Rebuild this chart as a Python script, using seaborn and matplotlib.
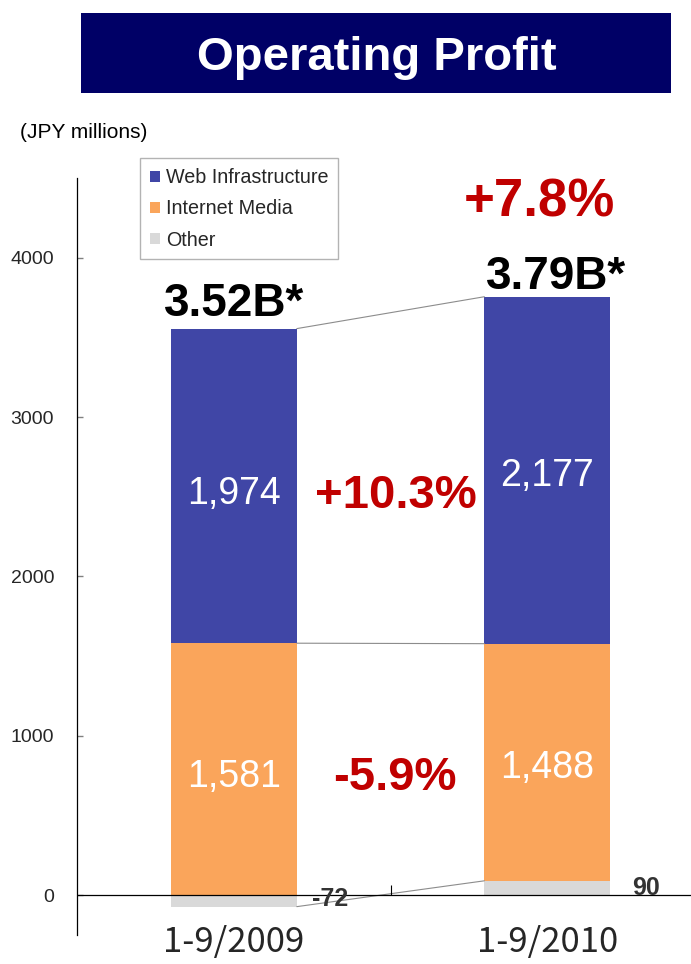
import numpy as np
import pandas as pd
import matplotlib
matplotlib.use('Agg')
import matplotlib.pyplot as plt
from matplotlib.patches import Rectangle
import seaborn as sns

# ---------------------------------------------------------
# Data (JPY millions)
# ---------------------------------------------------------
periods = ['1-9/2009', '1-9/2010']
web_infra = [1974, 2177]
internet_media = [1581, 1488]
other = [-72, 90]
totals_text = ['3.52B*', '3.79B*']
web_growth = '+10.3%'
media_growth = '-5.9%'
total_growth = '+7.8%'
yticks = [0, 1000, 2000, 3000, 4000]

C_WEB = '#4046A6'
C_MEDIA = '#FAA55B'
C_OTHER = '#D9D9D9'
C_RED = '#C00000'
C_NAVY = '#000066'

sns.set_theme(style='white')
plt.rcParams['font.family'] = ['Liberation Sans', 'DejaVu Sans']

df = pd.DataFrame({'period': periods, 'web': web_infra,
                   'media': internet_media, 'other': other})
df['media_bottom'] = df['other'].clip(lower=0)
df['web_bottom'] = df['media_bottom'] + df['media']
df['top'] = df['web_bottom'] + df['web']

fig = plt.figure(figsize=(6.91, 9.64), dpi=100)
ax = fig.add_axes([77 / 691, 29 / 964, 614 / 691, 757 / 964])

W = 0.402
sns.barplot(data=df, x='period', y='other', color=C_OTHER, width=W,
            saturation=1, errorbar=None, ax=ax, label='Other', linewidth=0)
sns.barplot(data=df, x='period', y='media', bottom=df['media_bottom'].values,
            color=C_MEDIA, width=W, saturation=1, errorbar=None, ax=ax,
            label='Internet Media', linewidth=0)
sns.barplot(data=df, x='period', y='web', bottom=df['web_bottom'].values,
            color=C_WEB, width=W, saturation=1, errorbar=None, ax=ax,
            label='Web Infrastructure', linewidth=0)

ax.set_xlim(-0.5, 1.458)
ax.set_ylim(-250, 4500)
ax.set_xlabel('')
ax.set_ylabel('')

# connector lines between the two bars
x_r, x_l = 0 + W / 2, 1 - W / 2
for y0, y1 in [(df['top'][0], df['top'][1]),
               (df['web_bottom'][0], df['web_bottom'][1]),
               (df['other'][0], df['other'][1])]:
    ax.plot([x_r, x_l], [y0, y1], color='#8C8C8C', lw=0.8, zorder=1)

# axes styling
for s in ['top', 'right', 'bottom']:
    ax.spines[s].set_visible(False)
ax.spines['left'].set_color('black')
ax.spines['left'].set_linewidth(0.9)
ax.axhline(0, color='black', lw=0.9, zorder=3)
ax.vlines(0.5, 0, 65, color='black', lw=0.8, zorder=3)

ax.set_yticks(yticks)
ax.set_yticklabels([str(v) for v in yticks])
ax.tick_params(axis='y', direction='in', length=4.5, width=1, color='#808080',
               pad=16.5, labelsize=14, left=True)
ax.set_xticks([0, 1])
ax.set_xticklabels(periods, fontsize=25, family=['Noto Sans CJK JP', 'DejaVu Sans'])
ax.tick_params(axis='x', length=0, pad=-7)

# value labels inside segments
seg_y = [[2456, 681], [2569, 737]]
for i in range(2):
    ax.text(i, seg_y[i][0], f'{web_infra[i]:,}', color='white', fontsize=27,
            ha='center', va='baseline')
    ax.text(i, seg_y[i][1], f'{internet_media[i]:,}', color='white', fontsize=27,
            ha='center', va='baseline')

ax.text(0.306, -66, f'{other[0]}', color='#333333', fontsize=18,
        fontweight='bold', ha='center', va='baseline')
ax.text(1.316, 0, f'{other[1]}', color='#333333', fontsize=18,
        fontweight='bold', ha='center', va='baseline')

# totals
ax.text(0, 3634, totals_text[0], fontsize=33, fontweight='bold',
        ha='center', va='baseline', color='black')
ax.text(1.029, 3803, totals_text[1], fontsize=33, fontweight='bold',
        ha='center', va='baseline', color='black')

# growth rates
ax.text(0.976, 4261, total_growth, fontsize=38, fontweight='bold',
        ha='center', va='baseline', color=C_RED)
ax.text(0.518, 2430, web_growth, fontsize=34, fontweight='bold',
        ha='center', va='baseline', color=C_RED)
ax.text(0.514, 658, media_growth, fontsize=34, fontweight='bold',
        ha='center', va='baseline', color=C_RED)

# legend
h, l = ax.get_legend_handles_labels()
order = [l.index('Web Infrastructure'), l.index('Internet Media'), l.index('Other')]
leg = ax.legend([h[k] for k in order], [l[k] for k in order],
                loc='upper left', bbox_to_anchor=(0.1026, 1.026),
                borderaxespad=0, fontsize=14.2, frameon=True, fancybox=False,
                handlelength=0.5, handleheight=0.5, handletextpad=0.3,
                labelspacing=0.62, borderpad=0.5)
leg.get_frame().set_edgecolor('#A0A0A0')
leg.get_frame().set_linewidth(1.0)

# title banner
fig.patches.append(Rectangle((81 / 691, 871 / 964), 590 / 691, 80 / 964,
                             transform=fig.transFigure, facecolor=C_NAVY,
                             edgecolor='none', zorder=0))
fig.text(376.5 / 691, (964 - 70) / 964, 'Operating Profit', color='white',
         fontsize=34, fontweight='bold', ha='center', va='baseline')
fig.text(20 / 691, (964 - 132) / 964, '(JPY millions)', fontsize=15,
         ha='left', va='center', color='black')

fig.savefig('out.png', dpi=100)
